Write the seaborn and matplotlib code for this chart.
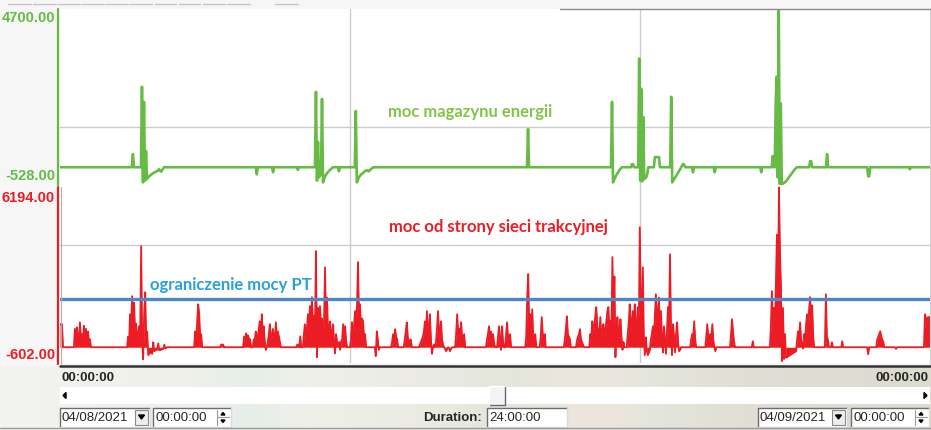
import numpy as np
import pandas as pd
import seaborn as sns
import matplotlib.pyplot as plt
from matplotlib.colors import LinearSegmentedColormap
from matplotlib.patches import Rectangle, Polygon

W, H = 931, 431
SAMPLE_S = 100  # krok rejestratora [s]

# moc magazynu energii - poczatek serii (HH:MM) i probki co SAMPLE_S
green_start = ["00:00", "01:59", "02:14", "05:24", "05:51", "06:32", "07:02", "07:40",
               "08:08", "12:53", "15:12", "15:45", "15:57", "16:23", "16:50", "17:26",
               "18:02", "19:19", "19:38", "20:40", "21:08", "22:16", "23:25", "24:00"]
green_values = [
    [0],
    [0, 390, 0],
    [0, 2390, -450, 1940, -400, 480, -350, -300, -280, -250, -220, -200, -180, -160,
     -150, -130, -110, -100, -60, -100, -130, -90, -40, 0],
    [0, -210, 0],
    [0, -150, 0],
    [0, -80, 0],
    [0, 2240, -400, 750, -300, -250, -200, 2030, -450, -350, -280, -220, -180, -140,
     -100, -80, -50, -20, 0],
    [0, -120, 0],
    [0, 1670, -450, -380, -300, -260, -220, -200, -170, -150, -120, -100, -90, -110,
     -120, -80, -60, -30, -10, 0],
    [0, 1135, 0],
    [0, 1940, -450, -380, -320, -250, -200, -150, -100, -60, -30, 0],
    [0, 90, 90, 0],
    [0, 3230, -400, 2330, -420, 1495, -350, -330, -300, -200, 0],
    [0, 300, 300, 300, 300, 300, 0],
    [0, 2090, -450, -400, -350, -300, -250, -200, -150, -100, -50, 0, 60, 100, 60, 0],
    [0, -150, 0],
    [0, -150, 0],
    [0, -150, 0],
    [0, 330, 0, 0, 1940, 2690, -300, 4700, -500, 1900, -510, -490, -470, -450, -420,
     -390, -350, -300, -260, -220, -180, -140, -100, -60, -30, 0],
    [0, 180, 180, 0],
    [0, 390, 0],
    [0, -270, -270, 0],
    [0, -60, 0],
    [0],
]

# moc od strony sieci trakcyjnej
red_start = ["00:00", "00:23", "01:51", "03:42", "04:25", "05:03", "05:19", "06:31",
             "06:42", "08:00", "08:41", "09:08", "09:29", "09:54", "10:54", "11:45",
             "12:50", "13:14", "13:54", "14:14", "14:36", "15:38", "17:23", "17:48",
             "18:29", "19:05", "19:35", "21:06", "21:16", "21:33", "22:16", "22:31",
             "23:02", "23:50"]
red_values = [
    [880, 880, 880, 0],
    [0, 700, 300, 760, 400, 200, 950, 300, 500, 200, 820, 400, 700, 300, 600, 200, 300, 0],
    [0, 400, 200, 1260, 600, 1950, 800, 1700, 500, 900, 300, 500, 800, 400, 3860, 300,
     -460, 1300, 2100, 300, 600, -300, -250, -200, -220, -250, 190, -150, -120, -100,
     -90, 150, -120, -100, -90, -80, -60, 100, -50, -20, 0],
    [0, 600, 300, 1000, 1640, 1300, 400, 500, 0],
    [0, 100, 100, 100, 0],
    [0, 400, 350, 530, 400, 450, 300, 300, 0],
    [0, 300, 230, 600, 400, 350, 700, 990, 300, 1260, 500, 800, 200, -100, 0, 200, 500,
     880, 300, 400, 700, 400, 300, 950, 300, 600, 400, 200, 0],
    [0, 100, 100, 0, 420, 0],
    [0, 500, 880, 400, 700, 1260, 600, 1570, 700, 1910, 900, 1200, 600, 3670, -380,
     1500, 600, 1570, 800, 1100, 500, 900, 3050, 700, 1900, 500, 700, 990, 300, 600,
     880, 200, -230, 500, 200, 100, 200, -100, 230, 300, 880, 300, 800, 200, 0],
    [0, 300, 950, 500, 800, 1380, 800, 1640, 3250, 900, 1640, 600, 1100, 990, 300, 500, 0],
    [0, -340, 610, 300, -100, 0],
    [0, 200, 500, 200, 690, 400, 300, 0],
    [0, 300, 600, 950, 400, 200, 250, 300, 0],
    [0, 100, 200, 300, 400, 600, 990, 400, 1380, 500, 700, 1260, 300, -250, 0, 100, 0,
     200, 700, 1380, 500, 600, 990, 300, 100, 0, -50, -150, -80, 0, -50, -150, -50, 0],
    [0, 500, 1260, 600, 700, 500, 950, 300, 400, 500, 0],
    [0, 300, 500, 800, 400, 600, 300, 500, 200, 0, 0, 0, 400, 800, 300, -100, 800, 200,
     0, 0, 500, 950, 300, 400, 500, 0],
    [0, 400, 1910, 2790, 600, 1260, 400, 1450, 300, 400, 500, 0],
    [0, 400, 1150, 500, 300, 500, 0],
    [0, 300, 700, 1180, 500, 400, 300, 0],
    [0, 250, 400, 500, 690, 300, 200, 100, 0],
    [0, 500, 300, 990, 600, 800, 1200, 1530, 800, 600, 500, 1150, 400, 600, 880, 400,
     700, 1000, 1380, 1530, 700, 1000, 600, 3440, 1000, 2700, -380, 600, 1150, 300, 600,
     1070, 400, -100, 200, 0],
    [0, 500, 900, 1640, 600, 1000, 1380, 700, 1640, 400, 900, 1530, 700, 4580, 1500, 800,
     3050, 400, -300, 380, -150, -300, -200, -100, 300, 500, 800, 400, 1200, 2020, 900,
     1300, 1900, 600, 1380, 400, -200, 800, 300, -250, 600, 1530, 800, 3550, 600, -300,
     880, 400, -200, 500, 950, 200, -150, -100, 0],
    [0, 300, 500, 300, 990, 300, 0],
    [0, 400, 880, 400, 200, 500, 300, 880, 300, 0, -150, 0],
    [0, 500, 1070, 600, 200, 0],
    [0, 230, 0],
    [0, 800, 2140, 900, 1500, 700, 2500, 4300, 1500, 6100, 3670, 2300, -530, 1500, -450,
     500, -400, -380, -350, -320, -300, -280, -250, -220, -200, -180, -150, 300, 600,
     400, 950, 300, 100, -50, 500, 300, 900, 1260, 600, 1500, 1910, 800, 1600, 400, 0],
    [0, 2020, 400, 300, 0],
    [0, 190, 0],
    [0, 230, 0],
    [0, -270, 0],
    [0, 300, 400, 500, 610, 400, 300, 200, 0],
    [0, -60, 0],
    [0, 1260, 1100, 1000, 1150, 1150, 1150],
]

green_range = (-528.0, 4700.0)
red_range = (-602.0, 6194.0)
pt_limit = 1850
grid_hours = [8, 16]
green_grid = 1200
red_grid = 3900
green_ticks = ["4700.00", "-528.00"]
red_ticks = ["6194.00", "-602.00"]

GREEN = "#66bb44"
GREEN_TXT = "#84c34a"
RED = "#ec1c24"
BLUE = "#4f86c6"
BLUE_TXT = "#2ba0da"
UI_FONT = ["Liberation Sans", "DejaVu Sans"]
LABEL = ["Lato", "DejaVu Sans"]


def to_frame(starts, values):
    rows = []
    for s, vals in zip(starts, values):
        hh, mm = s.split(":")
        t0 = int(hh) + int(mm) / 60
        for i, v in enumerate(vals):
            rows.append((t0 + i * SAMPLE_S / 3600, v))
    return pd.DataFrame(rows, columns=["t", "v"])


def fx(x):
    return x / W


def fy(y):
    return 1 - y / H


sns.set_style("white")
plt.rcParams["font.family"] = UI_FONT

fig = plt.figure(figsize=(W / 100, H / 100), dpi=100)
fig.patch.set_facecolor("#f6f6f6")

# ---- wykresy ----
ax_g = fig.add_axes([fx(60), fy(186), fx(870), 176 / H])
ax_r = fig.add_axes([fx(60), fy(364), fx(870), 178 / H])

df_g = to_frame(green_start, green_values)
df_r = to_frame(red_start, red_values)

for ax, rng, hgrid in [(ax_g, green_range, green_grid), (ax_r, red_range, red_grid)]:
    ax.set_facecolor("white")
    ax.set_xlim(0, 24)
    ax.set_ylim(*rng)
    for h in grid_hours:
        ax.axvline(h, color="#cccccc", lw=1, zorder=0)
    ax.axhline(hgrid, color="#cccccc", lw=1, zorder=0)
    for sp in ax.spines.values():
        sp.set_visible(False)

sns.lineplot(data=df_g, x="t", y="v", ax=ax_g, color=GREEN, lw=1.9,
             estimator=None, sort=False)
ax_r.fill_between(df_r["t"], df_r["v"], 0, color=RED, lw=0, zorder=2)
sns.lineplot(data=df_r, x="t", y="v", ax=ax_r, color=RED, lw=1.3,
             estimator=None, sort=False)
ax_r.axhline(pt_limit, color=BLUE, lw=2.4, zorder=3)
for ax in (ax_g, ax_r):
    ax.set_xlabel("")
    ax.set_ylabel("")
    ax.set_xticks([])
    ax.set_yticks([])

# ---- nakladka UI w pikselach ----
ui = fig.add_axes([0, 0, 1, 1], zorder=5)
ui.set_xlim(0, W)
ui.set_ylim(H, 0)
ui.axis("off")
ui.patch.set_alpha(0)

# pasek z gradientem na dole
band = fig.add_axes([0, 0, 1, (H - 367) / H], zorder=1)
band.axis("off")
cmap = LinearSegmentedColormap.from_list("band", [
    (0.0, "#f3f3ef"), (0.2, "#eff0ea"), (0.27, "#e6eee9"), (0.33, "#eef0e8"),
    (0.45, "#ebebe3"), (0.55, "#e3e6dc"), (0.6, "#ebe5de"), (0.67, "#ebe5dd"),
    (0.7, "#e3e6dc"), (0.8, "#e1ded5"), (1.0, "#dcdbd0")])
band.imshow(np.linspace(0, 1, 256)[None, :], aspect="auto", cmap=cmap,
            extent=[0, 1, 0, 1])

# osie pionowe po lewej
ui.plot([58, 58], [10, 186], color=GREEN, lw=1.6)
ui.plot([58, 58], [188, 365], color=RED, lw=1.6)
ui.plot([60.5, 60.5], [188, 365], color="#b0b0b0", lw=0.8)
ui.plot([929.5, 929.5], [10, 365], color="#d0d0d0", lw=0.8)
ui.plot([560, 931], [10, 10], color="#8a8a8a", lw=1)
ui.plot([60, 930], [366.5, 366.5], color="#333333", lw=1.8)

# kreski u gory
for a, b in [(8, 31), (33, 56), (58, 80), (82, 104), (106, 128), (130, 152),
             (155, 176), (179, 200), (203, 225), (227, 250), (275, 298)]:
    ui.plot([a, b], [5, 5], color="#c4c4c4", lw=1)

# opisy osi
for txt, y, c in [(green_ticks[0], 18, GREEN), (green_ticks[1], 176, GREEN),
                  (red_ticks[0], 198, RED), (red_ticks[1], 355, RED)]:
    ui.text(55, y, txt, color=c, ha="right", va="center", fontsize=10.5,
            fontweight="bold")

# podpisy serii
ui.text(470, 112, "moc magazynu energii", color=GREEN_TXT, ha="center", va="center",
        fontsize=12, fontweight="bold", family=LABEL)
ui.text(498, 227, "moc od strony sieci trakcyjnej", color=RED, ha="center",
        va="center", fontsize=12, fontweight="bold", family=LABEL)
ui.text(231, 285, "ograniczenie mocy PT", color=BLUE_TXT, ha="center", va="center",
        fontsize=12, fontweight="bold", family=LABEL)

# czas na osi
ui.text(61, 378, "00:00:00", ha="left", va="center", fontsize=9.5, fontweight="bold")
ui.text(929, 378, "00:00:00", ha="right", va="center", fontsize=9.5, fontweight="bold")

# suwak
ui.add_patch(Rectangle((60, 388), 870, 17, facecolor="white", edgecolor="none"))
ui.add_patch(Polygon([[63, 396.5], [66, 393.5], [66, 399.5]], color="black"))
ui.add_patch(Polygon([[927, 396.5], [924, 393.5], [924, 399.5]], color="black"))
ui.add_patch(Rectangle((489, 387), 16, 19, facecolor="#f4f4f4", edgecolor="none"))
ui.plot([489, 505, 505], [406, 406, 387], color="#6a6a6a", lw=1)
ui.plot([489, 489, 505], [406, 387, 387], color="#ffffff", lw=1)


def field(x0, x1, text, kind=None):
    ui.add_patch(Rectangle((x0, 409), x1 - x0, 19, facecolor="white",
                           edgecolor="none"))
    ui.plot([x0, x0, x1], [428, 409, 409], color="#6d6d6d", lw=1)
    ui.plot([x0, x1, x1], [428, 428, 409], color="#dadada", lw=1)
    ui.text(x0 + 2, 418.5, text, ha="left", va="center", fontsize=9.5)
    if kind == "drop":
        ui.add_patch(Rectangle((x1 - 15, 411), 13, 15, facecolor="#ededed",
                               edgecolor="#8a8a8a", lw=0.8))
        ui.add_patch(Polygon([[x1 - 11.5, 416], [x1 - 5.5, 416], [x1 - 8.5, 420]],
                             color="black"))
    elif kind == "spin":
        ui.plot([x1 - 14, x1 - 14], [411, 426], color="#9a9a9a", lw=0.8)
        ui.plot([x1 - 14, x1 - 2], [418.5, 418.5], color="#9a9a9a", lw=0.8)
        ui.add_patch(Polygon([[x1 - 10, 416], [x1 - 6, 416], [x1 - 8, 413.5]],
                             color="black"))
        ui.add_patch(Polygon([[x1 - 10, 421], [x1 - 6, 421], [x1 - 8, 423.5]],
                             color="black"))


field(60, 150, "04/08/2021", "drop")
field(153, 231, "00:00:00", "spin")
field(487, 567, "24:00:00")
field(758, 847, "04/09/2021", "drop")
field(851, 929, "00:00:00", "spin")
ui.text(482, 418.5, "Duration:", ha="right", va="center", fontsize=9.5,
        fontweight="bold")
ui.plot([0, W], [429.5, 429.5], color="#9a9a9a", lw=1)

fig.savefig("out.png", dpi=100)
